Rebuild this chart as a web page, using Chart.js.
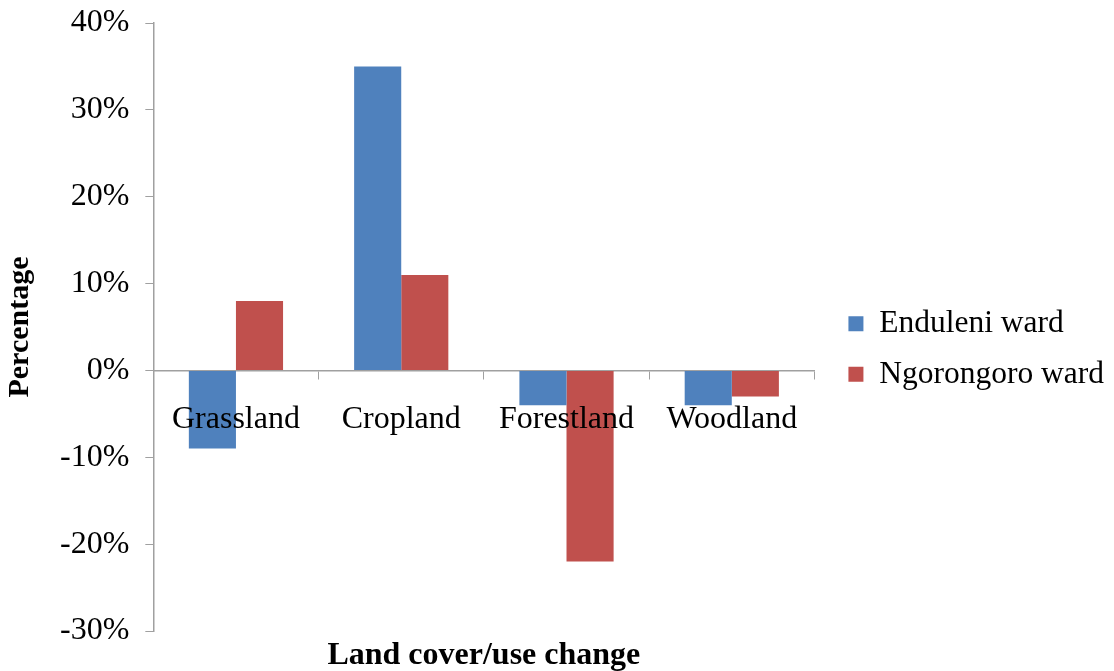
<!DOCTYPE html>
<html>
<head>
<meta charset="utf-8">
<script src="https://cdn.jsdelivr.net/npm/chart.js@4/dist/chart.umd.min.js"></script>
<style>
  html, body { margin: 0; padding: 0; background: #fff; overflow: hidden; }
  #wrap { width: 1114px; height: 671px; position: relative; }
</style>
</head>
<body>
<div id="wrap"><canvas id="chart"></canvas></div>
<script>
const categories = ["Grassland", "Cropland", "Forestland", "Woodland"]
const enduleni = [-9, 35, -4, -4]
const ngorongoro = [8, 11, -22, -3]
const yMin = -30
const yMax = 40
const yStep = 10

const axisGray = "#a0a0a0"
const serif = "'Liberation Serif', 'Times New Roman', serif"

new Chart(document.getElementById("chart"), {
  type: "bar",
  data: {
    labels: categories,
    datasets: [
      {
        label: "Enduleni ward",
        data: enduleni,
        backgroundColor: "#4f81bd",
        borderWidth: 0,
        categoryPercentage: 0.57,
        barPercentage: 1.0
      },
      {
        label: "Ngorongoro ward",
        data: ngorongoro,
        backgroundColor: "#c0504d",
        borderWidth: 0,
        categoryPercentage: 0.57,
        barPercentage: 1.0
      }
    ]
  },
  options: {
    responsive: true,
    maintainAspectRatio: false,
    animation: false,
    layout: {
      padding: { left: 2, right: 0, top: 23, bottom: -4 }
    },
    plugins: {
      tooltip: { enabled: false },
      legend: {
        position: "right",
        align: "center",
        maxWidth: 320,
        labels: {
          boxWidth: 15,
          boxHeight: 15,
          padding: 19,
          color: "#000",
          font: { family: serif, size: 31.5 }
        }
      }
    },
    scales: {
      // category labels sit right under the zero line, drawn over the bars
      x: {
        type: "category",
        position: { y: 0 },
        grid: {
          drawOnChartArea: false,
          drawTicks: true,
          tickLength: 8,
          color: axisGray
        },
        border: { color: axisGray, width: 1.5 },
        ticks: {
          z: 1,
          color: "#000",
          padding: 22,
          font: { family: serif, size: 32 }
        }
      },
      // bottom axis only carries the title
      x2: {
        type: "category",
        position: "bottom",
        grid: { display: false },
        border: { display: false },
        ticks: { display: false },
        title: {
          display: true,
          text: "Land cover/use change",
          color: "#000",
          padding: 0,
          font: { family: serif, size: 32, weight: "bold" }
        },
        afterFit: (scale) => { scale.height = 44 }
      },
      y: {
        min: yMin,
        max: yMax,
        grid: {
          drawOnChartArea: false,
          drawTicks: true,
          tickLength: 8,
          color: axisGray
        },
        border: { color: axisGray, width: 1.5 },
        ticks: {
          stepSize: yStep,
          color: "#000",
          padding: 16,
          font: { family: serif, size: 32 },
          callback: (v) => `${v}%`
        },
        title: {
          display: true,
          text: "Percentage",
          color: "#000",
          padding: { top: 0, bottom: 6 },
          font: { family: serif, size: 30, weight: "bold" }
        },
        // let layout padding decide where the plot starts and ends
        afterFit: (scale) => {
          scale.paddingTop = 0
          scale.paddingBottom = 0
        }
      },
      // empty spacer between plot and legend
      y2: {
        position: "right",
        grid: { display: false },
        border: { display: false },
        ticks: { display: false },
        afterFit: (scale) => { scale.width = 15 }
      }
    }
  }
})
</script>
</body>
</html>
